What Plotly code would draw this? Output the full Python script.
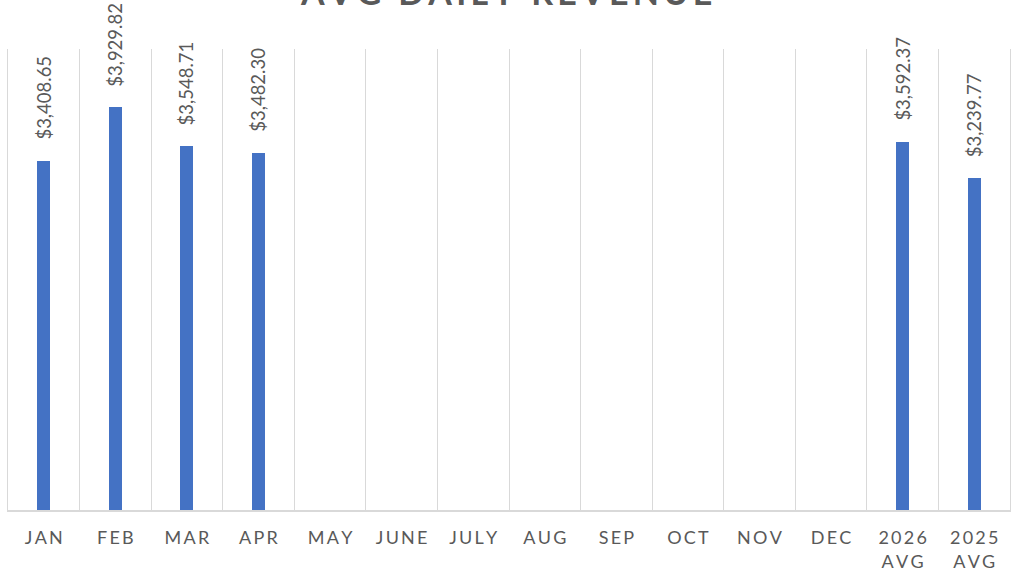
import plotly.graph_objects as go

categories = ["JAN", "FEB", "MAR", "APR", "MAY", "JUNE", "JULY", "AUG", "SEP", "OCT", "NOV", "DEC", "2026 AVG", "2025 AVG"]
values = [3408.65, 3929.82, 3548.71, 3482.30, None, None, None, None, None, None, None, None, 3592.37, 3239.77]
title_text = "AVG DAILY REVENUE"

SP = "\u2009"


def spaced(s, sep=SP):
    return "<br>".join(sep.join(list(w)) for w in s.split(" ")) if "AVG" in s else sep.join(list(s))


ticktext = [spaced(c) for c in categories]
font_family = "Lato, Carlito, Calibri, sans-serif"
grey = "#595959"

fig = go.Figure()
fig.add_trace(go.Bar(
    x=categories,
    y=values,
    width=0.18,
    marker=dict(color="#4472C4", line=dict(width=0)),
    hoverinfo="skip",
))

for c, v in zip(categories, values):
    if v is None:
        continue
    fig.add_annotation(
        x=c, y=v, xref="x", yref="y",
        text=f"${v:,.2f}",
        textangle=-90,
        showarrow=False,
        xanchor="center", yanchor="bottom",
        yshift=19,
        font=dict(family=font_family, size=18.5, color=grey),
    )

fig.add_annotation(
    x=0.497, y=1.124, xref="paper", yref="paper",
    text="<b>" + SP.join(list(title_text)) + "</b>",
    showarrow=False, xanchor="center", yanchor="middle",
    font=dict(family=font_family, size=34, color=grey),
)

fig.update_layout(
    width=1013, height=572,
    margin=dict(l=8, r=3, t=49, b=62),
    paper_bgcolor="white", plot_bgcolor="white",
    showlegend=False,
    bargap=0,
    xaxis=dict(
        type="category",
        automargin=False,
        tickmode="array", tickvals=categories, ticktext=ticktext,
        tickson="boundaries",
        showgrid=True, gridcolor="#d9d9d9", gridwidth=1.2,
        showline=True, linecolor="#d9d9d9", linewidth=1.5,
        ticks="", ticklabelstandoff=11,
        tickfont=dict(family=font_family, size=18, color=grey),
        tickangle=0,
        range=[-0.5, 13.5],
    ),
    yaxis=dict(
        automargin=False,
        range=[0, 4500],
        showgrid=False, zeroline=False,
        showticklabels=False,
        showline=True, linecolor="#d9d9d9", linewidth=1.2, mirror=True,
    ),
)

fig.write_html("out.html", config={"displayModeBar": False},
               post_script="document.body.style.margin='0';")
